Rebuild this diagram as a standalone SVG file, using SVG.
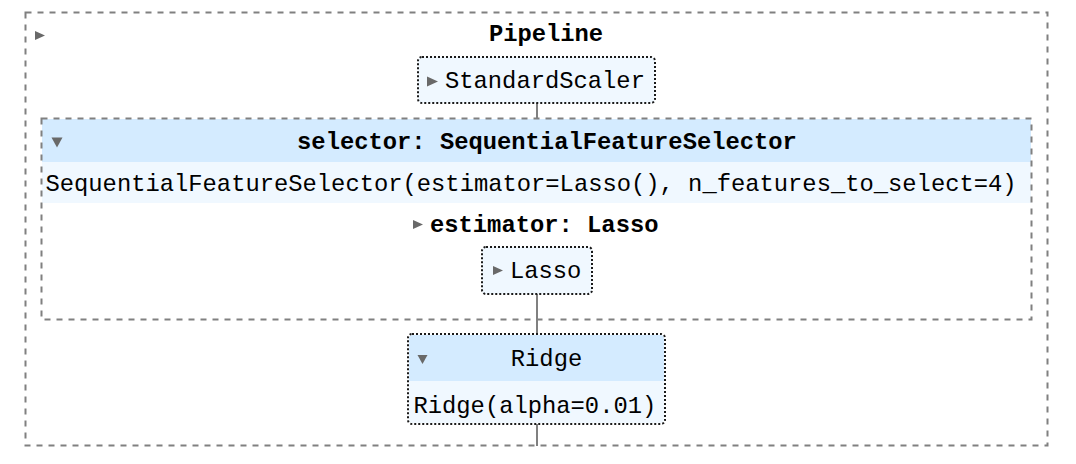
<svg xmlns="http://www.w3.org/2000/svg" width="1076" height="464" viewBox="0 0 1076 464">
<style>
.dash{fill:none;stroke:#808080;stroke-width:2;stroke-dasharray:6 6}
.dot{fill:none;stroke:#1a1a1a;stroke-width:2;stroke-dasharray:2 2}
.l0{fill:#f0f8ff}
.l1{fill:#d4ebff}
.t{font-family:"Liberation Mono","Courier New",monospace;font-size:23.8px;fill:#000}
.b{font-weight:bold}
.m{text-anchor:middle}
.tri{fill:#696969}
.conn{stroke:#808080;stroke-width:2;fill:none}
</style>
<rect x="0" y="0" width="1076" height="464" fill="#ffffff"/>
<g id="connectors">
<line class="conn" x1="537" y1="103" x2="537" y2="119"/>
<line class="conn" x1="537" y1="294" x2="537" y2="334"/>
<line class="conn" x1="537" y1="424" x2="537" y2="446"/>
</g>
<g id="pipeline">
<rect class="dash" x="25.5" y="12.5" width="1022" height="433"/>
<polygon class="tri" points="35,31 45,35.5 35,40"/>
<text class="t b m" x="546" y="41">Pipeline</text>
</g>
<g id="standardscaler">
<rect class="l0" x="418" y="57" width="237" height="46" rx="4"/>
<rect class="dot" x="418" y="57" width="237" height="46" rx="4"/>
<polygon class="tri" points="427,76.5 438,81.5 427,86.5"/>
<text class="t" x="445" y="88">StandardScaler</text>
</g>
<g id="selector">
<rect class="l1" x="42" y="119" width="989" height="43"/>
<rect class="l0" x="42" y="162" width="989" height="41"/>
<rect class="dash" x="41.5" y="118.5" width="990" height="201"/>
<polygon class="tri" points="51.5,137.5 62.5,137.5 57,147.5"/>
<text class="t b m" x="547" y="149">selector: SequentialFeatureSelector</text>
<text class="t" x="45.5" y="191">SequentialFeatureSelector(estimator=Lasso(), n_features_to_select=4)</text>
<polygon class="tri" points="413,220 423,224.5 413,229"/>
<text class="t b" x="430" y="232">estimator: Lasso</text>
</g>
<g id="lasso">
<rect class="l0" x="482" y="247" width="110" height="47" rx="4"/>
<rect class="dot" x="482" y="247" width="110" height="47" rx="4"/>
<polygon class="tri" points="493,266 503,270.5 493,275"/>
<text class="t" x="510" y="278">Lasso</text>
</g>
<g id="ridge">
<path class="l1" d="M409,381 V339 a4,4 0 0 1 4,-4 H660 a4,4 0 0 1 4,4 V381 Z"/>
<path class="l0" d="M409,381 H664 V419 a4,4 0 0 1 -4,4 H413 a4,4 0 0 1 -4,-4 Z"/>
<rect class="dot" x="408" y="334" width="257" height="90" rx="4"/>
<polygon class="tri" points="417.5,355 427.5,355 422.5,364"/>
<text class="t m" x="546.5" y="366">Ridge</text>
<text class="t" x="413.5" y="413">Ridge(alpha=0.01)</text>
</g>
</svg>
